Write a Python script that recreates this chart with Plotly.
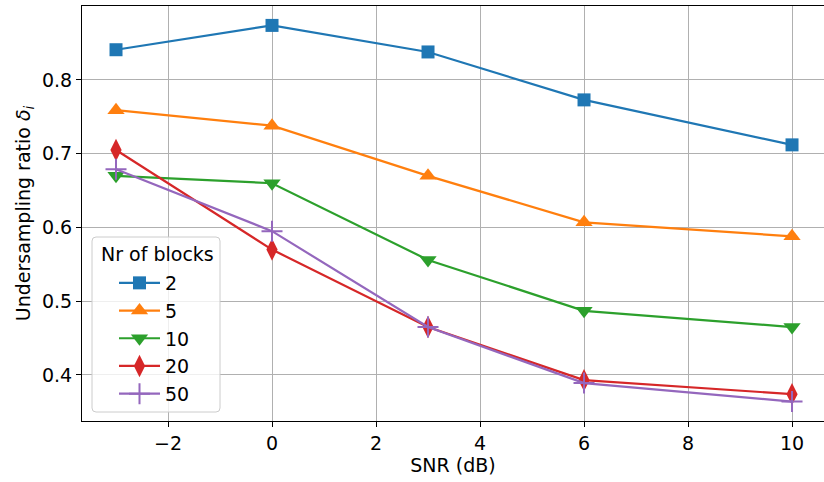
import plotly.graph_objects as go

snr = [-3, 0, 3, 6, 10]
blocks = ["2", "5", "10", "20", "50"]
ratio_2 = [0.841, 0.874, 0.838, 0.773, 0.712]
ratio_5 = [0.759, 0.738, 0.670, 0.607, 0.588]
ratio_10 = [0.670, 0.660, 0.556, 0.487, 0.465]
ratio_20 = [0.705, 0.570, 0.465, 0.393, 0.374]
ratio_50 = [0.679, 0.595, 0.465, 0.389, 0.364]
series = [ratio_2, ratio_5, ratio_10, ratio_20, ratio_50]

x_ticks = [-2, 0, 2, 4, 6, 8, 10]
x_ticklabels = ["\u22122", "0", "2", "4", "6", "8", "10"]
y_ticks = [0.4, 0.5, 0.6, 0.7, 0.8]
y_ticklabels = ["0.4", "0.5", "0.6", "0.7", "0.8"]

colors = ["#1f77b4", "#ff7f0e", "#2ca02c", "#d62728", "#9467bd"]
symbols = ["square", "triangle-up", "triangle-down", "diamond-tall", "cross-thin"]
sizes = [13, 15, 15, 16, 15]

fig = go.Figure()
for name, vals, c, s, sz in zip(blocks, series, colors, symbols, sizes):
    marker = dict(symbol=s, size=sz, color=c)
    if s == "cross-thin":
        marker["line"] = dict(color=c, width=2)
    fig.add_trace(go.Scatter(x=snr, y=vals, name=name, mode="lines+markers",
                             line=dict(color=c, width=2.2), marker=marker))

font = "DejaVu Sans, sans-serif"
fs = 19
W, H = 824, 482
ML, MT, MB = 82, 6, 61
PW, PH = W - ML, H - MT - MB


def px(xp):
    return (xp - ML) / PW


def py(yp):
    return (H - MB - yp) / PH


# legend frame (rounded) in paper coords
bx0, bx1, by0, by1 = px(92), px(220), py(412), py(237)
rx, ry = 4 / PW, 4 / PH
frame = (f"M {bx0+rx},{by0} L {bx1-rx},{by0} Q {bx1},{by0} {bx1},{by0+ry} "
         f"L {bx1},{by1-ry} Q {bx1},{by1} {bx1-rx},{by1} L {bx0+rx},{by1} "
         f"Q {bx0},{by1} {bx0},{by1-ry} L {bx0},{by0+ry} Q {bx0},{by0} {bx0+rx},{by0} Z")

axis_common = dict(showline=True, linecolor="black", linewidth=1.1, mirror=True,
                   ticks="outside", ticklen=5, tickwidth=1.1, tickcolor="black",
                   showgrid=True, gridcolor="#b0b0b0", gridwidth=1.1, zeroline=False,
                   automargin=False,
                   tickfont=dict(family=font, size=fs, color="black"))
fig.update_layout(
    width=W, height=H,
    margin=dict(l=ML, r=0, t=MT, b=MB),
    paper_bgcolor="white", plot_bgcolor="white",
    font=dict(family=font, size=fs, color="black"),
    xaxis=dict(range=[-3.654, 10.615], tickvals=x_ticks, ticktext=x_ticklabels,
               title=dict(text="SNR (dB)", font=dict(family=font, size=fs), standoff=4),
               **axis_common),
    yaxis=dict(range=[0.3376, 0.9003], tickvals=y_ticks, ticktext=y_ticklabels,
               title=dict(text="Undersampling ratio <i>δ<sub>i</sub></i>", font=dict(family=font, size=fs), standoff=6),
               **axis_common),
    shapes=[dict(type="path", path=frame, xref="paper", yref="paper", layer="above",
                 fillcolor="rgba(255,255,255,0.8)", line=dict(color="#cccccc", width=1))],
    annotations=[dict(text="Nr of blocks", xref="paper", yref="paper", x=px(99), y=py(254),
                      xanchor="left", yanchor="middle", showarrow=False,
                      font=dict(family=font, size=fs, color="black"))],
    legend=dict(x=px(114), y=py(264), xanchor="left", yanchor="top",
                bgcolor="rgba(0,0,0,0)", borderwidth=0, itemwidth=41,
                font=dict(family=font, size=fs), tracegroupgap=0),
    showlegend=True,
)
fig.write_html("out.html", config={"displayModeBar": False},
               post_script="document.body.style.margin='0';document.body.style.overflow='hidden';")
